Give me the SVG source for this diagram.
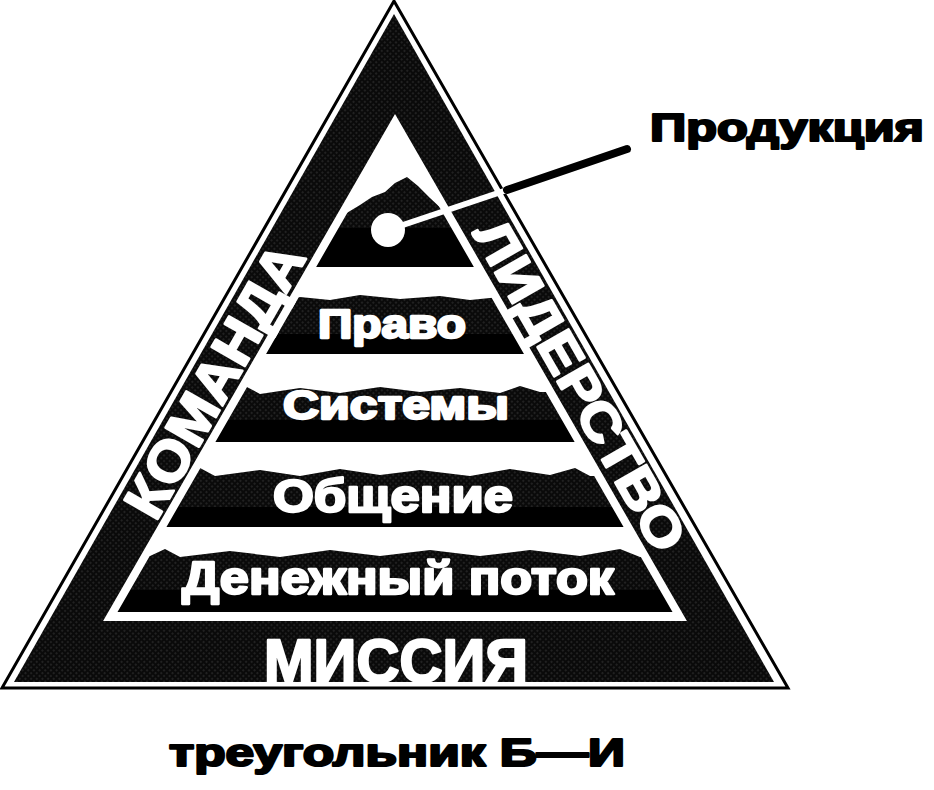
<svg xmlns="http://www.w3.org/2000/svg" width="934" height="790" viewBox="0 0 934 790">
  <defs>
    <pattern id="ht" width="4" height="4" patternUnits="userSpaceOnUse" patternTransform="rotate(45)">
      <rect width="4" height="4" fill="#0a0a0a"/>
      <circle cx="2" cy="2" r="0.7" fill="#4a4a4a"/>
    </pattern>
    <clipPath id="innerClip">
      <polygon points="395,122 110,617 680,617"/>
    </clipPath>
    <style>
      .lbl { font-family: "Liberation Sans", Arial, sans-serif; font-weight: 700; stroke-linejoin: round; }
      .wt { fill: #fff; stroke: #fff; stroke-width: 2.4; }
      .bk { fill: #000; stroke: #000; stroke-width: 2.2; }
      .solid { fill: #000; }
      .half { fill: url(#ht); }
    </style>
  </defs>
  <rect width="934" height="790" fill="#fff"/>

  <g id="outer-triangle">
    <polygon points="394,1 2,688 788,688" fill="#fff" stroke="#000" stroke-width="3" stroke-linejoin="miter"/>
    <polygon points="394,14 14,682 774,682" class="half"/>
  </g>

  <g id="inner-triangle">
    <polygon points="395,122 110,617 680,617" fill="#fff"/>
  </g>

  <g id="layers" clip-path="url(#innerClip)">
    <g id="layer-produkciya">
      <polygon class="half" points="300,267 345,214 360,205 372,197 385,192 395,183 407,177 418,186 430,198 445,212 490,267"/>
      <rect class="solid" x="250" y="228" width="300" height="39"/>
    </g>
    <g id="layer-pravo">
      <path class="half" d="M100,354 L100,300 L240,300 L255,296 L270,302 L300,297 L330,300 L360,295 L400,299 L440,296 L470,300 L500,297 L700,300 L700,354 Z"/>
      <rect class="solid" x="100" y="334" width="600" height="20"/>
    </g>
    <g id="layer-sistemy">
      <path class="half" d="M100,442 L100,392 L230,392 L245,386 L260,394 L300,388 L340,393 L380,387 L420,392 L460,388 L500,393 L520,386 L540,392 L700,392 L700,442 Z"/>
      <rect class="solid" x="100" y="420" width="600" height="22"/>
    </g>
    <g id="layer-obshchenie">
      <path class="half" d="M100,527 L100,475 L180,475 L200,468 L215,476 L260,470 L300,476 L340,469 L380,475 L420,470 L470,476 L510,469 L550,475 L575,468 L590,476 L700,476 L700,527 Z"/>
      <rect class="solid" x="100" y="507" width="600" height="20"/>
    </g>
    <g id="layer-denezhny">
      <path class="half" d="M100,612 L100,556 L150,556 L165,549 L180,557 L230,551 L280,557 L330,550 L380,556 L430,550 L480,556 L530,550 L580,556 L620,549 L640,557 L700,557 L700,612 Z"/>
      <rect class="solid" x="100" y="590" width="600" height="22"/>
    </g>
  </g>

  <g id="inner-outline">
    <polygon points="395,122 110,617 680,617" fill="none" stroke="#fff" stroke-width="8" stroke-linejoin="miter"/>
  </g>

  <g id="connectors">
    <line x1="388" y1="230" x2="507" y2="190" stroke="#fff" stroke-width="6"/>
    <line x1="507" y1="190" x2="627" y2="149" stroke="#000" stroke-width="8" stroke-linecap="round"/>
    <circle cx="388" cy="230" r="17" fill="#fff"/>
  </g>

  <g id="text-pravo"><text class="lbl wt" x="392" y="338" font-size="40" text-anchor="middle" textLength="148" lengthAdjust="spacingAndGlyphs">Право</text></g>
  <g id="text-sistemy"><text class="lbl wt" x="396" y="419" font-size="40" text-anchor="middle" textLength="226" lengthAdjust="spacingAndGlyphs">Системы</text></g>
  <g id="text-obshchenie"><text class="lbl wt" x="393" y="512" font-size="46" text-anchor="middle" textLength="240" lengthAdjust="spacingAndGlyphs">Общение</text></g>
  <g id="text-denezhny"><text class="lbl wt" x="398" y="594" font-size="46" text-anchor="middle" textLength="432" lengthAdjust="spacingAndGlyphs">Денежный поток</text></g>

  <g id="label-missiya"><text class="lbl wt" x="396" y="682" font-size="62" text-anchor="middle" textLength="264" lengthAdjust="spacingAndGlyphs">МИССИЯ</text></g>
  <g id="label-komanda"><text class="lbl wt" transform="translate(214,380) rotate(-60.3)" x="0" y="20" font-size="56" text-anchor="middle" textLength="305" lengthAdjust="spacingAndGlyphs">КОМАНДА</text></g>
  <g id="label-liderstvo"><text class="lbl wt" transform="translate(581,385) rotate(60.2)" x="0" y="19" font-size="52" text-anchor="middle" textLength="372" lengthAdjust="spacingAndGlyphs">ЛИДЕРСТВО</text></g>

  <g id="label-produkciya"><text class="lbl bk" x="650" y="141" font-size="38" textLength="274" lengthAdjust="spacingAndGlyphs">Продукция</text></g>
  <g id="caption"><text class="lbl bk" x="397" y="766" font-size="38" text-anchor="middle" textLength="456" lengthAdjust="spacingAndGlyphs">треугольник Б—И</text></g>
</svg>
